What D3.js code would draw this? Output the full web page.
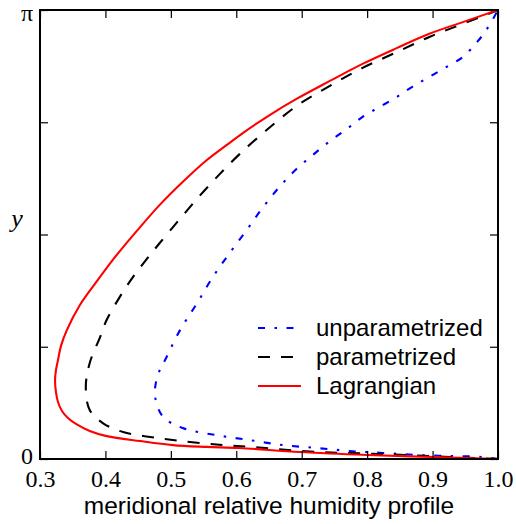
<!DOCTYPE html>
<html>
<head>
<meta charset="utf-8">
<script src="https://cdn.jsdelivr.net/npm/d3@7"></script>
<style>
  html, body { margin: 0; padding: 0; background: #fff; }
  svg { display: block; }
</style>
</head>
<body>
<svg id="chart"></svg>
<script>
// x: relative humidity, y: latitude in units of pi
const lagX = [1.0, 0.9, 0.8, 0.697, 0.605, 0.555, 0.503, 0.453, 0.402, 0.376, 0.355, 0.3427, 0.3336, 0.3275, 0.3244, 0.323,
              0.3244, 0.3275, 0.3321, 0.341, 0.361, 0.387, 0.411, 0.448, 0.483, 0.518, 0.555, 0.585, 0.610, 0.651, 0.692,
              0.743, 0.793, 0.845, 0.895, 0.946, 1.0];
const lagY = [0, 0.0045, 0.009, 0.0156, 0.0245, 0.027, 0.031, 0.040, 0.051, 0.0624, 0.078, 0.0913, 0.107, 0.127, 0.149, 0.176,
              0.198, 0.2205, 0.252, 0.287, 0.343, 0.396, 0.443, 0.508, 0.566, 0.617, 0.666, 0.699, 0.726, 0.766, 0.802,
              0.842, 0.880, 0.915, 0.947, 0.973, 1.0];

const parX = [1.0, 0.926, 0.824, 0.723, 0.621, 0.579, 0.529, 0.479, 0.427, 0.396, 0.376, 0.370,
              0.376, 0.392, 0.402, 0.422, 0.442, 0.463, 0.483, 0.514, 0.544, 0.575, 0.605, 0.645, 0.692,
              0.743, 0.793, 0.845, 0.895, 0.946, 1.0];
const parY = [0, 0.0045, 0.011, 0.0156, 0.027, 0.031, 0.038, 0.047, 0.060, 0.080, 0.109, 0.160,
              0.214, 0.272, 0.310, 0.361, 0.405, 0.445, 0.481, 0.535, 0.586, 0.635, 0.679, 0.731, 0.786,
              0.831, 0.871, 0.906, 0.940, 0.969, 1.0];

const unpX = [1.0, 0.976, 0.926, 0.876, 0.824, 0.773, 0.723, 0.671, 0.621, 0.570, 0.518, 0.488, 0.476,
              0.477, 0.483, 0.491, 0.514, 0.540, 0.564, 0.590, 0.616, 0.640, 0.666, 0.692, 0.717, 0.743,
              0.769, 0.793, 0.819, 0.845, 0.869, 0.895, 0.921, 0.946, 0.967, 0.982, 1.0];
const unpY = [0, 0.0045, 0.0067, 0.009, 0.0134, 0.0178, 0.0245, 0.031, 0.042, 0.053, 0.069, 0.094, 0.138,
              0.169, 0.198, 0.220, 0.287, 0.347, 0.405, 0.459, 0.510, 0.559, 0.606, 0.646, 0.677, 0.708,
              0.735, 0.762, 0.784, 0.806, 0.829, 0.851, 0.873, 0.895, 0.927, 0.955, 1.0];

const xTicks = [0.3, 0.4, 0.5, 0.6, 0.7, 0.8, 0.9, 1.0];
const yTicks = [0, Math.PI / 4, Math.PI / 2, 3 * Math.PI / 4, Math.PI];
const yTickLabels = ['0', '', '', '', 'π'];

const series = [
  { name: 'unparametrized', xs: unpX, ys: unpY, color: '#0000ff', dash: '7,9.5,2.5,9.5' },
  { name: 'parametrized',   xs: parX, ys: parY, color: '#000000', dash: '12,11' },
  { name: 'Lagrangian',     xs: lagX, ys: lagY, color: '#ff0000', dash: null }
];

const W = 516, H = 524;
const margin = { top: 10, right: 18, bottom: 65, left: 40 };
const innerW = W - margin.left - margin.right;
const innerH = H - margin.top - margin.bottom;

const svg = d3.select('#chart').attr('width', W).attr('height', H);
const chart = svg.append('g').attr('transform', `translate(${margin.left},${margin.top})`);

const x = d3.scaleLinear().domain([0.3, 1.0]).range([0, innerW]);
const y = d3.scaleLinear().domain([0, Math.PI]).range([innerH, 0]);

// curves
const line = d3.line()
  .x(d => x(d[0]))
  .y(d => y(d[1] * Math.PI))
  .curve(d3.curveCatmullRom.alpha(0.5));

series.forEach(s => {
  chart.append('path')
    .datum(s.xs.map((v, i) => [v, s.ys[i]]))
    .attr('fill', 'none')
    .attr('stroke', s.color)
    .attr('stroke-width', 2.1)
    .attr('stroke-dasharray', s.dash)
    .attr('d', line);
});

// ticks on all sides, pointing inward
const tickLen = 8;
const axisStyle = g => {
  g.select('.domain').remove();
  g.selectAll('.tick line').attr('stroke', '#000').attr('stroke-width', 1.2);
};

chart.append('g')
  .attr('transform', `translate(0,${innerH})`)
  .call(d3.axisBottom(x).tickValues(xTicks).tickSize(-tickLen).tickPadding(11).tickFormat(d3.format('.1f')))
  .call(axisStyle)
  .selectAll('text')
    .attr('fill', '#000')
    .style('font-family', '"Liberation Serif", serif')
    .style('font-size', '24px');

chart.append('g')
  .call(d3.axisTop(x).tickValues(xTicks).tickSize(-tickLen).tickFormat(''))
  .call(axisStyle);

chart.append('g')
  .call(d3.axisLeft(y).tickValues(yTicks).tickSize(-tickLen).tickPadding(7).tickFormat((d, i) => yTickLabels[i]))
  .call(axisStyle)
  .selectAll('text')
    .attr('fill', '#000')
    .attr('dy', (d, i) => i === 4 ? '0.42em' : '0.2em')
    .style('font-family', '"Liberation Serif", serif')
    .style('font-size', '24px');

chart.append('g')
  .attr('transform', `translate(${innerW},0)`)
  .call(d3.axisRight(y).tickValues(yTicks).tickSize(-tickLen).tickFormat(''))
  .call(axisStyle);

// frame
chart.append('rect')
  .attr('width', innerW)
  .attr('height', innerH)
  .attr('fill', 'none')
  .attr('stroke', '#000')
  .attr('stroke-width', 2);

// axis labels
svg.append('text')
  .attr('x', margin.left + innerW / 2)
  .attr('y', 514)
  .attr('text-anchor', 'middle')
  .style('font-family', '"Liberation Sans", Arial, sans-serif')
  .style('font-size', '24.5px')
  .text('meridional relative humidity profile');

svg.append('text')
  .attr('x', 17)
  .attr('y', 227)
  .attr('text-anchor', 'middle')
  .style('font-family', '"Liberation Serif", serif')
  .style('font-style', 'italic')
  .style('font-size', '26px')
  .text('y');

// legend
const legend = svg.append('g').attr('transform', 'translate(258,328)');
series.forEach((s, i) => {
  const row = legend.append('g').attr('transform', `translate(0,${i * 29})`);
  row.append('line')
    .attr('x1', 0).attr('x2', 43)
    .attr('stroke', s.color)
    .attr('stroke-width', 2.1)
    .attr('stroke-dasharray', s.dash);
  row.append('text')
    .attr('x', 58)
    .attr('y', 8)
    .style('font-family', '"Liberation Sans", Arial, sans-serif')
    .style('font-size', '24px')
    .text(s.name);
});
</script>
</body>
</html>
